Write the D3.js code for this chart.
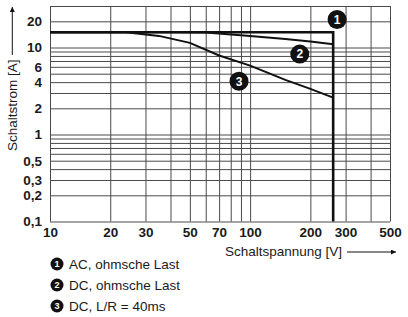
<!DOCTYPE html>
<html>
<head>
<meta charset="utf-8">
<script src="https://cdn.jsdelivr.net/npm/d3@7"></script>
<style>
  body { margin: 0; background: #fff; }
  svg { font-family: "Liberation Sans", Arial, sans-serif; }
  .grid line { stroke: #4a4a4a; stroke-width: 1; }
  .grid path { display: none; }
  .tick text { font-size: 13.5px; font-weight: bold; fill: #1a1a1a; }
</style>
</head>
<body>
<div id="chart"></div>
<script>
// x grid (Schaltspannung, V) and y grid (Schaltstrom, A)
var xGrid = [10, 20, 30, 40, 50, 60, 70, 80, 90, 100, 200, 300, 400, 500];
var xLabels = [10, 20, 30, 50, 70, 100, 200, 300, 500];
var yGrid = [0.1, 0.2, 0.3, 0.4, 0.5, 0.6, 0.7, 0.8, 0.9, 1, 2, 3, 4, 5, 6, 7, 8, 9, 10, 20, 30];
var yLabels = [0.1, 0.2, 0.3, 0.5, 1, 2, 4, 6, 10, 20];

// curves: [V, A]
var curveAC = [[10, 15], [260, 15], [260, 0.1]];
var curveDC = [[10, 15], [40, 15], [60, 14.9], [100, 13.6], [150, 12.5], [200, 11.7], [260, 10.9]];
var curveDCL = [[10, 15], [24, 15], [35, 13.6], [50, 11.3], [70, 8.1], [100, 6.2], [150, 4.25], [200, 3.35], [260, 2.65]];

var curves = [curveAC, curveDC, curveDCL];
var curveWidth = [2.6, 2, 2];
// badge positions in data coords
var badgePos = [[272, 21], [177, 8.4], [88, 4.1]];
var legendText = ["AC, ohmsche Last", "DC, ohmsche Last", "DC, L/R = 40ms"];

var width = 408, height = 317;
var plotLeft = 50, plotRight = 390, plotTop = 6, plotBottom = 221.5;

var svg = d3.select("#chart").append("svg")
    .attr("width", width)
    .attr("height", height);

var x = d3.scaleLog().domain([10, 500]).range([plotLeft, plotRight]);
var y = d3.scaleLog().domain([0.1, 30]).range([plotBottom, plotTop]);

var fmt = function(d) { return String(d).replace(".", ","); };

// vertical grid + x labels
var xAxis = d3.axisBottom(x)
    .tickValues(xGrid)
    .tickSize(-(plotBottom - plotTop))
    .tickPadding(6)
    .tickFormat(function(d) { return xLabels.indexOf(d) >= 0 ? d : ""; });
svg.append("g")
    .attr("class", "grid")
    .attr("transform", "translate(0," + plotBottom + ")")
    .call(xAxis);

// horizontal grid + y labels
var yAxis = d3.axisLeft(y)
    .tickValues(yGrid)
    .tickSize(-(plotRight - plotLeft))
    .tickPadding(8)
    .tickFormat(function(d) { return yLabels.indexOf(d) >= 0 ? fmt(d) : ""; });
svg.append("g")
    .attr("class", "grid")
    .attr("transform", "translate(" + plotLeft + ",0)")
    .call(yAxis);

// curves
var line = d3.line()
    .x(function(d) { return x(d[0]); })
    .y(function(d) { return y(d[1]); });

svg.selectAll(".curve")
    .data(curves)
    .enter().append("path")
    .attr("class", "curve")
    .attr("d", line)
    .attr("fill", "none")
    .attr("stroke", "#111")
    .attr("stroke-width", function(d, i) { return curveWidth[i]; })
    .attr("stroke-linejoin", "miter");

// numbered badges on the chart
var badges = svg.selectAll(".badge")
    .data(badgePos)
    .enter().append("g")
    .attr("class", "badge")
    .attr("transform", function(d) { return "translate(" + x(d[0]) + "," + y(d[1]) + ")"; });
badges.append("circle").attr("r", 9.5).attr("fill", "#111");
badges.append("text")
    .attr("text-anchor", "middle")
    .attr("dy", "0.36em")
    .attr("fill", "#fff")
    .attr("font-size", 12)
    .attr("font-weight", "bold")
    .text(function(d, i) { return i + 1; });

// axis titles with arrows
svg.append("defs").append("marker")
    .attr("id", "arrow")
    .attr("viewBox", "0 0 10 10")
    .attr("refX", 10).attr("refY", 5)
    .attr("markerWidth", 10).attr("markerHeight", 5)
    .attr("markerUnits", "userSpaceOnUse")
    .attr("orient", "auto")
    .append("path")
    .attr("d", "M0,0L10,5L0,10Z")
    .attr("fill", "#111");

svg.append("text")
    .attr("transform", "translate(16.5,151) rotate(-90)")
    .attr("font-size", 13.5)
    .attr("fill", "#1a1a1a")
    .text("Schaltstrom [A]");
svg.append("line")
    .attr("x1", 12.3).attr("y1", 55)
    .attr("x2", 12.3).attr("y2", 7)
    .attr("stroke", "#111").attr("stroke-width", 1)
    .attr("marker-end", "url(#arrow)");

svg.append("text")
    .attr("x", 225).attr("y", 256)
    .attr("font-size", 13.5)
    .attr("fill", "#1a1a1a")
    .text("Schaltspannung [V]");
svg.append("line")
    .attr("x1", 347).attr("y1", 252)
    .attr("x2", 396).attr("y2", 252)
    .attr("stroke", "#111").attr("stroke-width", 1)
    .attr("marker-end", "url(#arrow)");

// legend
var legend = svg.selectAll(".legend")
    .data(legendText)
    .enter().append("g")
    .attr("class", "legend")
    .attr("transform", function(d, i) { return "translate(57," + (264 + i * 21) + ")"; });
legend.append("circle").attr("r", 6.5).attr("fill", "#111");
legend.append("text")
    .attr("text-anchor", "middle")
    .attr("dy", "0.36em")
    .attr("fill", "#fff")
    .attr("font-size", 9)
    .attr("font-weight", "bold")
    .text(function(d, i) { return i + 1; });
legend.append("text")
    .attr("x", 12)
    .attr("dy", "0.38em")
    .attr("font-size", 13.5)
    .attr("fill", "#1a1a1a")
    .text(function(d) { return d; });
</script>
</body>
</html>
